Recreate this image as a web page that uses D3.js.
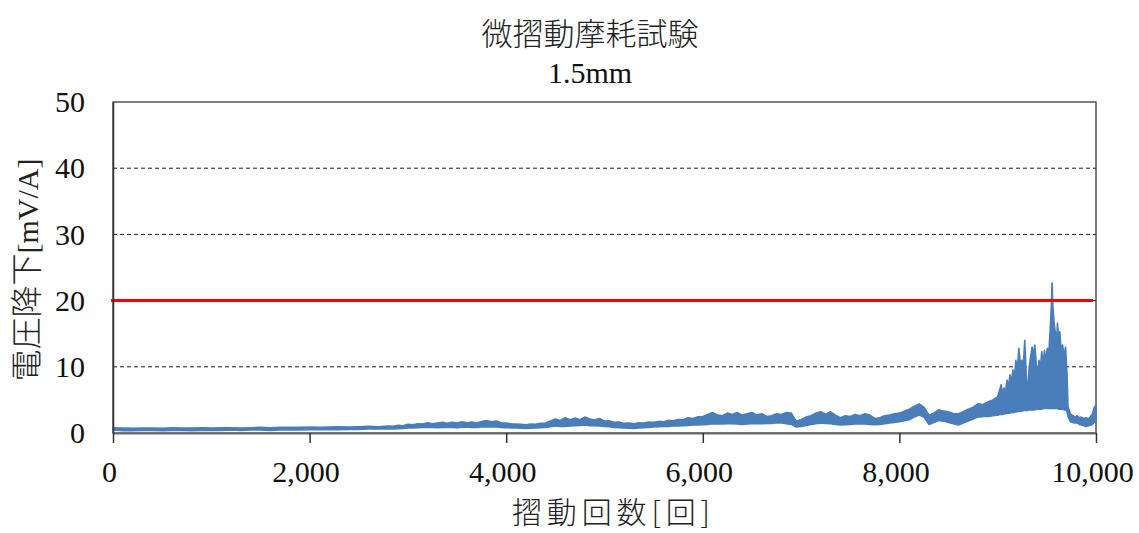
<!DOCTYPE html>
<html>
<head>
<meta charset="utf-8">
<script src="https://cdn.jsdelivr.net/npm/d3@7"></script>
<style>
  html, body { margin: 0; padding: 0; background: #ffffff; }
  svg { display: block; }
</style>
</head>
<body>
<svg id="chart" width="1139" height="533"></svg>
<script>
// Sliding cycle counts and the min/max band of the measured voltage drop [mV/A]
const cycles = [
  0,100,200,300,400,500,600,700,800,900,1000,1100,1200,1300,1400,1500,1600,1700,1800,1900,2000,2100,2200,2300,2400,2500,2600,2700,
  2800,2850,2900,2950,3000,3050,3100,3150,3200,3250,
  3300,3350,3400,3450,3500,3550,3600,3650,3700,3750,
  3800,3850,3900,3950,4000,4050,4100,4150,4200,4250,
  4300,4350,4400,4450,4500,4550,4600,4650,4700,4750,
  4800,4850,4900,4950,5000,5050,5100,5150,5200,5250,
  5300,5350,5400,5450,5500,5550,5600,5650,5700,5750,
  5800,5850,5900,5950,6000,6050,6100,6150,6200,6250,
  6300,6350,6400,6450,6500,6550,6600,6650,6700,6750,
  6800,6850,6900,6950,7000,7050,7100,7150,7200,7250,
  7300,7350,7400,7450,7500,7550,7600,7650,7700,7750,
  7800,7850,7900,7950,8000,8050,8100,8150,8200,8250,
  8300,8350,8400,8450,8500,8550,8600,8650,8700,8750,
  8800,8850,8900,8950,
  9000,9020,9035,9050,9065,9080,9095,9110,9125,9140,
  9155,9170,9185,9200,9215,9230,9245,9260,9275,9290,
  9305,9320,9335,9350,9365,9378,9392,9405,9420,9435,
  9448,9462,9476,9490,9505,9520,9535,9545,9553,9562,
  9575,9587,9598,9608,9620,9632,9645,9660,9675,9690,
  9705,9715,9740,9760,9785,9810,9830,9850,9875,9900,
  9925,9950,9965,9980,10000
];
const dropLow = [
  .45,.35,.35,.4,.4,.35,.4,.4,.35,.4,.4,.4,.45,.4,.45,.45,.4,.45,.5,.45,.5,.5,.5,.5,.55,.55,.6,.6,
  .6,.62,.65,.7,.75,.78,.8,.85,.85,.82,
  .8,.85,.85,.82,.8,.88,.9,.85,.85,.9,
  .95,.92,.9,.85,.8,.78,.75,.72,.7,.72,
  .75,.8,.85,.95,1.05,1.0,1.0,1.05,1.1,1.15,
  1.2,1.1,1.1,1.05,1.0,.95,.85,.8,.75,.72,
  .7,.75,.8,.85,.9,.95,1.0,1.0,1.05,1.05,
  1.1,1.15,1.2,1.2,1.25,1.3,1.4,1.35,1.35,1.4,
  1.4,1.35,1.3,1.35,1.4,1.4,1.4,1.45,1.45,1.5,
  1.5,1.4,1.3,.9,1.0,1.15,1.3,1.4,1.5,1.45,
  1.4,1.3,1.2,1.25,1.3,1.35,1.4,1.35,1.3,1.25,
  1.3,1.4,1.5,1.6,1.7,1.85,2.0,2.4,2.7,2.4,
  1.3,1.6,1.9,1.8,1.6,1.4,1.2,1.5,1.8,2.1,
  2.4,2.5,2.5,2.6,
  2.7,2.8,2.8,2.8,2.9,2.9,3.0,3.0,3.0,3.1,
  3.1,3.1,3.2,3.2,3.3,3.3,3.3,3.4,3.4,3.4,
  3.4,3.5,3.5,3.5,3.5,3.5,3.6,3.6,3.6,3.6,
  3.6,3.7,3.7,3.7,3.7,3.7,3.7,3.7,3.7,3.7,
  3.7,3.7,3.7,3.7,3.6,3.6,3.6,3.6,3.5,3.5,
  3.2,2.5,1.7,1.6,1.5,1.5,1.3,1.2,1.1,1.0,
  1.1,1.2,1.3,1.6,1.8
];
const dropHigh = [
  .8,.75,.7,.75,.75,.7,.8,.75,.75,.8,.75,.8,.8,.75,.8,.85,.8,.85,.85,.85,.9,.85,.9,.95,.9,.95,1.0,.95,
  1.05,1.0,1.15,1.1,1.3,1.25,1.4,1.35,1.55,1.4,
  1.5,1.6,1.45,1.6,1.5,1.7,1.55,1.65,1.5,1.75,
  1.9,1.7,1.8,1.55,1.5,1.4,1.35,1.3,1.25,1.35,
  1.3,1.45,1.5,1.8,2.1,1.9,2.3,2.0,2.25,2.0,
  2.4,2.1,2.0,2.2,1.8,1.85,1.6,1.65,1.45,1.5,
  1.4,1.55,1.5,1.65,1.6,1.75,1.7,1.9,1.85,2.05,
  2.0,2.3,2.2,2.45,2.5,2.8,3.1,2.7,2.6,3.0,
  2.8,3.1,2.7,2.9,3.1,2.7,2.9,2.5,2.6,2.9,
  2.8,3.1,3.0,1.8,2.0,2.4,2.6,3.0,3.2,2.8,
  3.2,2.7,2.3,2.6,2.5,2.8,2.6,2.9,2.7,2.2,
  2.3,2.6,2.7,2.9,3.0,3.3,3.6,4.0,4.4,3.9,
  2.7,3.0,3.5,3.3,3.2,2.9,2.9,3.2,3.6,3.9,
  4.4,4.3,4.7,5.0,
  5.5,6.5,7.3,6.0,6.8,6.2,8.0,7.0,8.8,7.8,
  9.5,8.5,11.0,9.5,12.8,10.5,11.0,10.0,14.0,9.0,
  5.5,10.0,11.5,13.0,11.8,13.3,10.5,8.5,11.0,10.0,
  12.3,10.5,12.5,11.0,12.8,12.0,16.0,19.0,22.7,19.0,
  16.5,15.1,13.5,16.6,14.0,15.3,12.5,13.3,11.5,13.0,
  9.0,4.0,2.9,2.7,2.4,2.6,2.3,2.4,2.2,2.3,
  2.1,2.6,2.9,3.8,4.3
];
// Judgement threshold [mV/A]
const threshold = 20;

const xTicks = [0, 2000, 4000, 6000, 8000, 10000];
const yTicks = [0, 10, 20, 30, 40, 50];
const gridValues = [10, 20, 30, 40];

const titleMain = "微摺動摩耗試験";
const titleSub = "1.5mm";
const xTitle = "摺動回数[回]";
const yTitleJa = "電圧降下";
const yTitleUnit = "[mV/A]";

const serif = "'Liberation Serif', 'Times New Roman', serif";
const cjk = "'Noto Sans CJK JP', 'Noto Sans CJK SC', sans-serif";

const svg = d3.select("#chart");
const plotLeft = 113, plotRight = 1096, plotTop = 102, plotBottom = 433;

const x = d3.scaleLinear().domain([0, 10000]).range([plotLeft, plotRight]);
const y = d3.scaleLinear().domain([0, 50]).range([plotBottom, plotTop]);

svg.append("rect").attr("width", 1139).attr("height", 533).attr("fill", "#ffffff");

// dashed gridlines
svg.append("g")
  .selectAll("line")
  .data(gridValues)
  .join("line")
  .attr("x1", plotLeft).attr("x2", plotRight)
  .attr("y1", d => y(d)).attr("y2", d => y(d))
  .attr("stroke", "#1a1a1a")
  .attr("stroke-width", 1)
  .attr("stroke-dasharray", "4,3");

// plot frame
svg.append("rect")
  .attr("x", plotLeft).attr("y", plotTop)
  .attr("width", plotRight - plotLeft).attr("height", plotBottom - plotTop)
  .attr("fill", "none")
  .attr("stroke", "#3a3a3a")
  .attr("stroke-width", 1.3);

// measured band (min/max envelope of the voltage drop)
const band = cycles.map((c, i) => ({ c, lo: dropLow[i], hi: dropHigh[i] }));
const area = d3.area()
  .x(d => x(d.c))
  .y0(d => y(d.lo))
  .y1(d => y(d.hi));
svg.append("path")
  .datum(band)
  .attr("d", area)
  .attr("fill", "#4A7EBB")
  .attr("stroke", "#4A7EBB")
  .attr("stroke-width", 1.6)
  .attr("stroke-linejoin", "round");

// threshold line
svg.append("line")
  .attr("x1", x(0) - 2).attr("x2", x(10000) - 3)
  .attr("y1", y(threshold)).attr("y2", y(threshold))
  .attr("stroke", "#ff0000")
  .attr("stroke-width", 3);

// x axis
const xAxis = svg.append("g")
  .attr("transform", `translate(0,${plotBottom})`)
  .call(d3.axisBottom(x)
    .tickValues(xTicks)
    .tickFormat(d3.format(","))
    .tickSizeInner(10)
    .tickSizeOuter(0)
    .tickPadding(18));
xAxis.select(".domain").attr("stroke", "#6a6a6a").attr("stroke-width", 2);
xAxis.selectAll(".tick line").attr("stroke", "#333333").attr("stroke-width", 1.5);
xAxis.selectAll(".tick text")
  .attr("font-family", serif)
  .attr("font-size", 30)
  .attr("fill", "#111111")
  .attr("dx", -4);

// y axis
const yAxis = svg.append("g")
  .attr("transform", `translate(${plotLeft},0)`)
  .call(d3.axisLeft(y)
    .tickValues(yTicks)
    .tickSize(0)
    .tickPadding(28));
yAxis.select(".domain").attr("stroke", "#333333").attr("stroke-width", 1.5);
yAxis.selectAll(".tick text")
  .attr("font-family", serif)
  .attr("font-size", 30)
  .attr("fill", "#111111");

// titles
svg.append("text")
  .attr("x", 590).attr("y", 45)
  .attr("text-anchor", "middle")
  .attr("font-family", cjk)
  .attr("font-weight", 300)
  .attr("font-size", 31)
  .attr("fill", "#222222")
  .text(titleMain);
svg.append("text")
  .attr("x", 590).attr("y", 83)
  .attr("text-anchor", "middle")
  .attr("font-family", serif)
  .attr("font-size", 30)
  .attr("fill", "#111111")
  .text(titleSub);

svg.append("text")
  .attr("x", 512).attr("y", 523)
  .attr("font-family", cjk)
  .attr("font-weight", 300)
  .attr("font-size", 30)
  .attr("fill", "#222222")
  .attr("textLength", 198)
  .attr("lengthAdjust", "spacing")
  .text(xTitle);

const yt = svg.append("text")
  .attr("transform", "translate(38,270) rotate(-90)")
  .attr("text-anchor", "middle")
  .attr("fill", "#222222");
yt.append("tspan").attr("font-family", cjk).attr("font-weight", 300).attr("font-size", 32).text(yTitleJa);
yt.append("tspan").attr("font-family", serif).attr("font-size", 30).text(yTitleUnit);
</script>
</body>
</html>
